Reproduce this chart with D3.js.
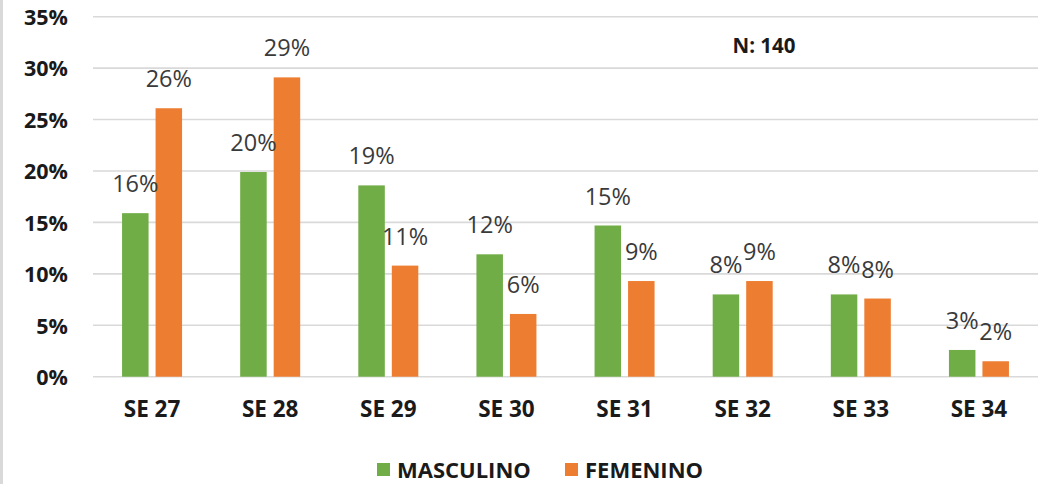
<!DOCTYPE html>
<html>
<head>
<meta charset="utf-8">
<script src="https://cdn.jsdelivr.net/npm/d3@7"></script>
<style>
  html, body { margin: 0; padding: 0; background: #fff; }
  svg { display: block; font-family: "Open Sans", "Noto Sans", sans-serif; }
</style>
</head>
<body>
<svg id="chart" width="1050" height="484"></svg>
<script>
const categories = ["SE 27", "SE 28", "SE 29", "SE 30", "SE 31", "SE 32", "SE 33", "SE 34"];
const seriesNames = ["MASCULINO", "FEMENINO"];
const masculino = [15.9, 19.9, 18.6, 11.9, 14.7, 8.0, 8.0, 2.6];
const femenino = [26.1, 29.1, 10.8, 6.1, 9.3, 9.3, 7.6, 1.5];
const yTicks = [0, 5, 10, 15, 20, 25, 30, 35];
const colors = ["#70AD47", "#ED7D31"];
const note = "N: 140";

const series = [masculino, femenino];
const svg = d3.select("#chart");
const W = 1050, H = 484;

// left frame border
svg.append("rect").attr("x", 0).attr("y", 0).attr("width", 3).attr("height", H).attr("fill", "#d9d9d9");

const plot = { left: 93, right: 1038, top: 16.7, bottom: 376.7 };

const x0 = d3.scaleBand().domain(categories).range([plot.left, plot.right]).padding(0);
const groupW = 60;
const x1 = d3.scaleBand().domain(seriesNames)
  .range([(x0.bandwidth() - groupW) / 2, (x0.bandwidth() + groupW) / 2])
  .paddingInner(0.209).paddingOuter(0);
const y = d3.scaleLinear().domain([0, 35]).range([plot.bottom, plot.top]);

// gridlines
svg.append("g").selectAll("line").data(yTicks).join("line")
  .attr("x1", plot.left).attr("x2", plot.right)
  .attr("y1", d => y(d)).attr("y2", d => y(d))
  .attr("stroke", "#d9d9d9").attr("stroke-width", 1.6);

// y axis labels
const yAxis = d3.axisLeft(y).tickValues(yTicks).tickFormat(d => d + "%").tickSize(0).tickPadding(0);
const gy = svg.append("g").attr("transform", `translate(68,0)`).call(yAxis);
gy.select(".domain").remove();
gy.selectAll("text")
  .attr("font-family", "Open Sans, sans-serif")
  .attr("font-size", 21.5).attr("font-weight", 700).attr("fill", "#1a1a1a")
  .attr("dy", "0.36em");

// x axis labels
const xAxis = d3.axisBottom(x0).tickSize(0).tickPadding(0);
const gx = svg.append("g").attr("transform", `translate(0,405)`).call(xAxis);
gx.select(".domain").remove();
gx.selectAll("text")
  .attr("font-family", "Open Sans, sans-serif")
  .attr("font-size", 22.5).attr("font-weight", 700).attr("fill", "#1a1a1a")
  .attr("dy", "0.55em");

// bars
const groups = svg.append("g").selectAll("g").data(categories).join("g")
  .attr("transform", d => `translate(${x0(d)},0)`);

const rows = (c, i) => seriesNames.map((s, j) => ({ s, j, v: series[j][i] }));

groups.selectAll("rect").data((c, i) => rows(c, i)).join("rect")
  .attr("x", d => x1(d.s)).attr("width", x1.bandwidth())
  .attr("y", d => y(d.v)).attr("height", d => y(0) - y(d.v))
  .attr("fill", d => colors[d.j]);

groups.selectAll("text").data((c, i) => rows(c, i)).join("text")
  .attr("x", d => x1(d.s) + x1.bandwidth() / 2)
  .attr("y", d => y(d.v) - 21)
  .attr("text-anchor", "middle")
  .attr("font-size", 23.5).attr("fill", "#3a3a3a")
  .text(d => Math.round(d.v) + "%");

// note
svg.append("text").attr("x", 764).attr("y", 53).attr("text-anchor", "middle")
  .attr("font-size", 20.5).attr("font-weight", 700).attr("fill", "#1a1a1a").text(note);

// legend
const legendItems = [{ name: seriesNames[0], x: 377, color: colors[0] }, { name: seriesNames[1], x: 565, color: colors[1] }];
const lg = svg.append("g").selectAll("g").data(legendItems).join("g")
  .attr("transform", d => `translate(${d.x},463)`);
lg.append("rect").attr("width", 13).attr("height", 13).attr("fill", d => d.color);
lg.append("text").attr("x", 20).attr("y", 14.5)
  .attr("font-size", 22).attr("font-weight", 700).attr("fill", "#1a1a1a")
  .text(d => d.name);
</script>
</body>
</html>
